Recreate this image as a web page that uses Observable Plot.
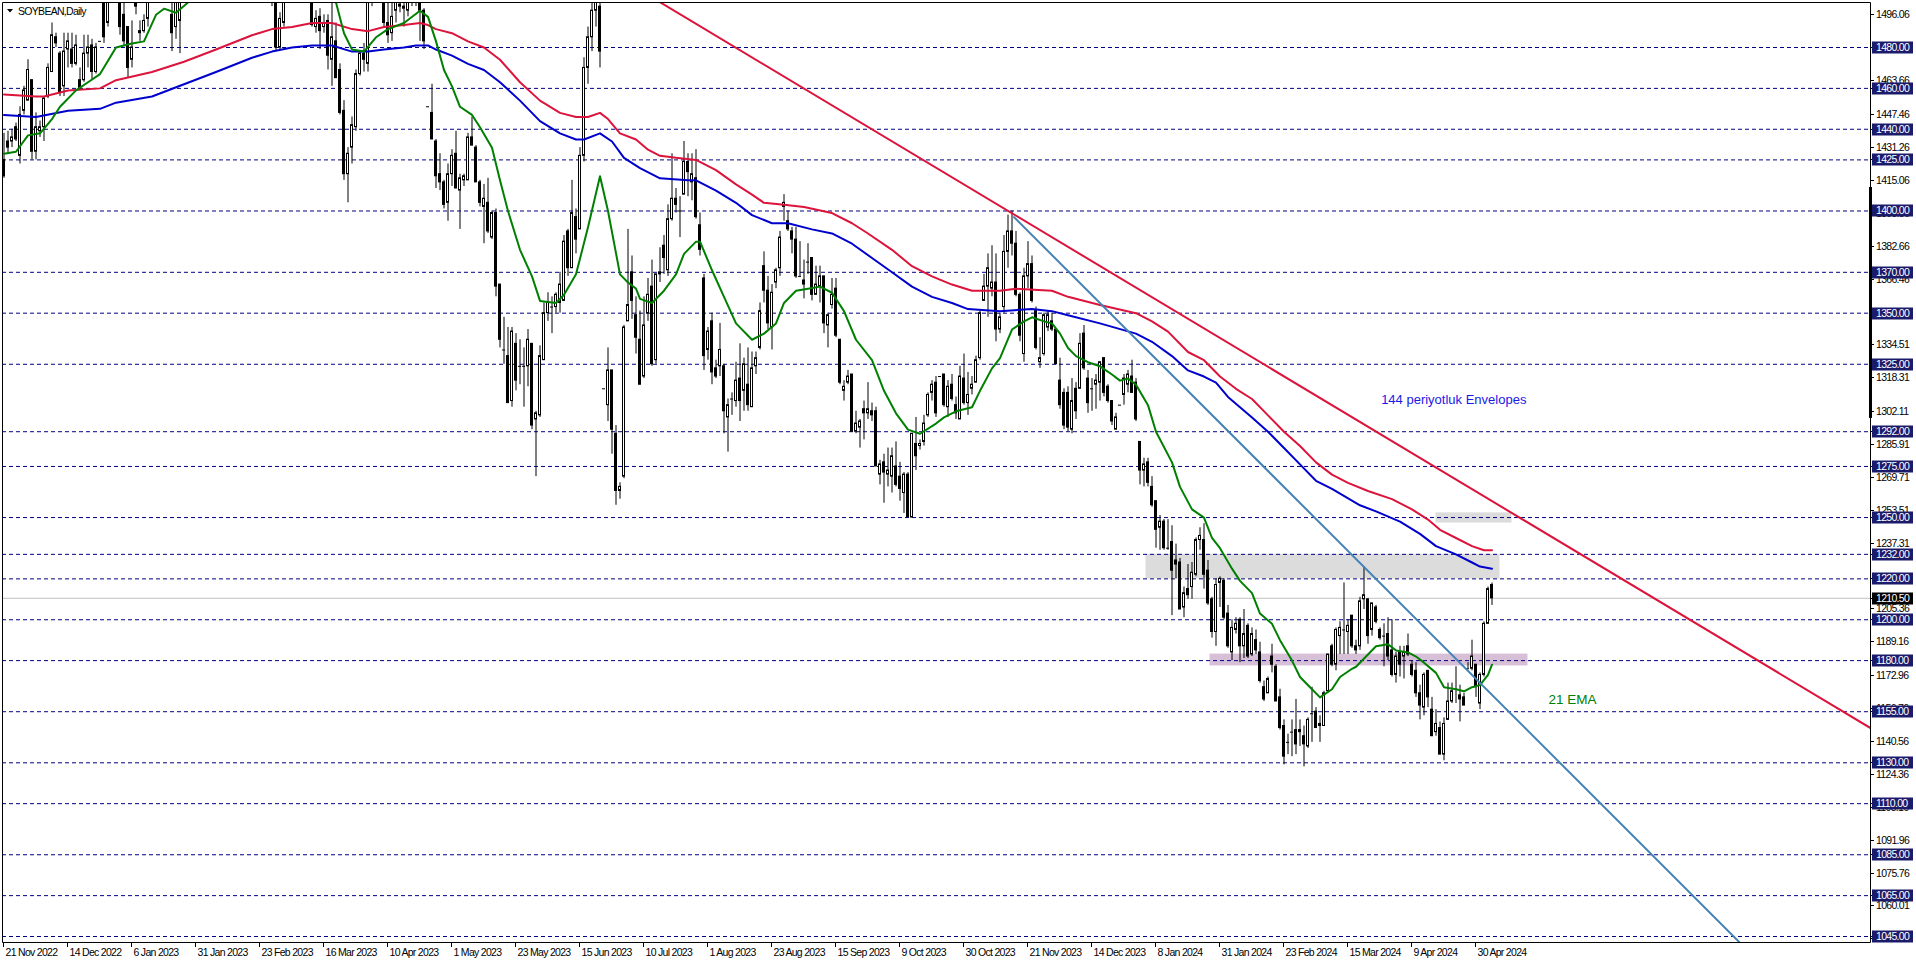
<!DOCTYPE html>
<html><head><meta charset="utf-8">
<script src="https://cdn.jsdelivr.net/npm/d3@7"></script>
<script src="https://cdn.jsdelivr.net/npm/@observablehq/plot@0.6"></script>
<style>
html,body{margin:0;padding:0;background:#fff;overflow:hidden}
#chart svg{display:block}
</style></head><body><div id="chart"></div>
<script>
const symbolLabel = "SOYBEAN,Daily";
const dateLabels = ["21 Nov 2022","14 Dec 2022","6 Jan 2023","31 Jan 2023","23 Feb 2023","16 Mar 2023","10 Apr 2023","1 May 2023","23 May 2023","15 Jun 2023","10 Jul 2023","1 Aug 2023","23 Aug 2023","15 Sep 2023","9 Oct 2023","30 Oct 2023","21 Nov 2023","14 Dec 2023","8 Jan 2024","31 Jan 2024","23 Feb 2024","15 Mar 2024","9 Apr 2024","30 Apr 2024"];
const dateLabelBars = [0,16,32,48,64,80,96,112,128,144,160,176,192,208,224,240,256,272,288,304,320,336,352,368];

// daily candles [open, high, low, close], one per bar
const candles = [
[1425,1438,1416,1417],[1434,1439,1428,1431],[1434,1440,1431,1436],[1441,1443,1434,1435],[1427,1451,1423,1447],
[1449,1461,1447,1459],[1454,1474,1454,1469],[1464,1464,1425,1429],[1429,1448,1425,1441],[1439,1444,1436,1441],
[1441,1456,1434,1455],[1456,1472,1455,1470],[1468,1492,1468,1486],[1485,1487,1480,1482],[1477,1478,1456,1458],
[1461,1487,1456,1478],[1479,1487,1470,1483],[1479,1487,1470,1472],[1472,1486,1471,1481],[1464,1470,1460,1460],
[1464,1486,1463,1477],[1477,1486,1470,1480],[1481,1484,1464,1468],[1468,1482,1467,1480],[1483,1483,1483,1483],
[1505,1510,1482,1485],[1492,1515,1490,1510],[1510,1525,1505,1520],[1520,1530,1508,1515],[1512,1518,1486,1490],
[1496,1508,1481,1483],[1490,1490,1465,1470],[1474,1493,1470,1480],[1505,1510,1496,1500],[1488,1493,1483,1487],
[1488,1496,1487,1493],[1494,1512,1490,1508],[1508,1520,1503,1515],[1515,1528,1510,1522],[1522,1530,1512,1518],
[1518,1525,1506,1510],[1510,1518,1502,1512],[1496,1505,1478,1487],[1490,1510,1484,1506],[1493,1512,1477,1508],
[1508,1525,1505,1522],[1522,1535,1515,1530],[1530,1538,1518,1520],[1520,1532,1512,1528],[1528,1540,1522,1535],
[1535,1542,1520,1524],[1524,1530,1510,1515],[1515,1528,1508,1525],[1525,1538,1520,1533],[1533,1545,1528,1540],
[1540,1548,1530,1535],[1535,1542,1522,1528],[1528,1536,1518,1532],[1532,1545,1528,1541],[1541,1550,1532,1538],
[1538,1546,1526,1530],[1530,1538,1515,1520],[1520,1530,1508,1526],[1526,1540,1520,1536],[1536,1544,1525,1530],
[1530,1536,1512,1518],[1518,1526,1505,1512],[1512,1520,1500,1515],[1515,1518,1478,1480],[1480,1497,1479,1494],
[1492,1512,1490,1506],[1506,1520,1503,1515],[1515,1525,1508,1520],[1520,1528,1510,1514],[1514,1522,1506,1518],
[1518,1526,1510,1512],[1512,1520,1504,1508],[1508,1512,1490,1491],[1490,1498,1487,1494],[1495,1499,1479,1488],
[1490,1496,1487,1492],[1493,1496,1469,1476],[1474,1503,1461,1485],[1483,1492,1465,1465],[1469,1472,1447,1448],
[1449,1454,1415,1418],[1418,1431,1404,1428],[1431,1446,1423,1442],[1441,1469,1439,1467],[1467,1478,1466,1477],
[1477,1482,1468,1474],[1472,1510,1468,1506],[1506,1518,1500,1512],[1512,1522,1505,1515],[1515,1520,1503,1508],
[1506,1510,1490,1492],[1492,1505,1482,1486],[1487,1505,1483,1495],[1498,1510,1492,1506],[1501,1506,1497,1500],
[1500,1505,1490,1499],[1498,1508,1495,1505],[1505,1515,1500,1510],[1510,1516,1500,1504],[1504,1508,1483,1498],
[1498,1499,1479,1483],[1451,1451,1451,1451],[1448,1462,1435,1435],[1434,1435,1411,1417],[1418,1428,1410,1414],
[1414,1415,1401,1403],[1404,1423,1395,1418],[1418,1430,1412,1427],[1428,1439,1411,1411],[1410,1418,1391,1416],
[1415,1418,1412,1417],[1415,1438,1415,1436],[1436,1446,1432,1432],[1431,1432,1414,1414],[1414,1415,1402,1404],
[1402,1413,1384,1406],[1404,1416,1389,1390],[1387,1400,1386,1399],[1399,1401,1358,1363],[1364,1364,1333,1337],
[1332,1348,1325,1332],[1329,1343,1306,1306],[1307,1343,1304,1341],[1335,1340,1312,1317],[1324,1337,1315,1324],
[1324,1333,1304,1324],[1324,1342,1314,1337],[1335,1335,1293,1295],[1298,1302,1270,1301],[1300,1334,1299,1329],
[1327,1355,1327,1350],[1350,1360,1346,1355],[1353,1358,1340,1353],[1353,1360,1350,1359],[1355,1370,1350,1364],
[1356,1388,1356,1385],[1390,1391,1368,1372],[1372,1415,1372,1399],[1397,1401,1379,1386],[1391,1431,1391,1427],
[1427,1475,1424,1470],[1470,1490,1462,1485],[1485,1505,1478,1498],[1498,1515,1490,1505],[1500,1508,1470,1478],
[1313,1313,1313,1313],[1305,1333,1297,1322],[1322,1322,1281,1293],[1291,1295,1256,1263],[1263,1267,1259,1265],
[1270,1344,1269,1343],[1346,1391,1346,1354],[1370,1378,1347,1356],[1349,1358,1330,1338],[1337,1351,1315,1315],
[1319,1358,1318,1344],[1350,1367,1346,1359],[1363,1376,1324,1325],[1327,1369,1325,1369],[1369,1382,1365,1370],
[1383,1388,1369,1377],[1371,1403,1368,1396],[1396,1428,1395,1406],[1406,1411,1399,1403],[1400,1407,1387,1400],
[1408,1434,1408,1424],[1424,1428,1407,1419],[1414,1428,1405,1418],[1416,1430,1396,1397],[1393,1399,1378,1381],
[1367,1369,1322,1329],[1332,1343,1327,1341],[1346,1350,1315,1321],[1323,1327,1318,1319],[1324,1345,1319,1332],
[1324,1325,1291,1302],[1299,1308,1282,1305],[1308,1311,1300,1308],[1307,1326,1304,1317],[1318,1335,1297,1307],
[1312,1328,1302,1325],[1315,1333,1302,1305],[1304,1331,1304,1323],[1324,1331,1320,1328],[1333,1355,1332,1351],
[1373,1380,1355,1361],[1361,1368,1342,1345],[1343,1364,1332,1360],[1365,1372,1362,1371],[1372,1390,1368,1387],
[1402,1408,1395,1404],[1395,1400,1390,1391],[1390,1392,1379,1386],[1386,1392,1367,1368],[1368,1385,1368,1368],
[1366,1376,1357,1364],[1375,1384,1369,1375],[1377,1377,1356,1359],[1359,1373,1359,1364],[1363,1373,1355,1368],
[1368,1368,1340,1345],[1344,1350,1333,1349],[1354,1367,1352,1359],[1362,1367,1338,1339],[1337,1337,1315,1316],
[1312,1317,1307,1314],[1316,1322,1315,1319],[1320,1320,1292,1292],[1292,1302,1291,1296],[1294,1298,1284,1297],
[1303,1307,1288,1301],[1301,1316,1298,1303],[1302,1306,1297,1300],[1302,1304,1275,1275],[1271,1278,1266,1276],
[1277,1281,1257,1272],[1271,1284,1265,1273],[1270,1284,1262,1280],[1275,1287,1265,1266],[1270,1277,1258,1264],
[1262,1272,1252,1271],[1271,1272,1250,1250],[1250,1291,1250,1291],[1286,1299,1273,1280],[1285,1288,1283,1286],
[1287,1300,1285,1296],[1300,1311,1299,1310],[1311,1317,1307,1315],[1316,1319,1299,1301],[1319,1319,1319,1319],
[1320,1320,1304,1305],[1304,1317,1299,1314],[1315,1320,1307,1308],[1305,1309,1298,1301],[1298,1324,1298,1319],
[1318,1330,1305,1306],[1306,1321,1300,1310],[1313,1319,1310,1315],[1316,1329,1316,1327],[1328,1351,1327,1350],
[1356,1369,1356,1363],[1363,1379,1348,1372],[1362,1383,1358,1365],[1365,1379,1336,1342],[1342,1350,1340,1348],
[1353,1388,1350,1380],[1380,1398,1372,1390],[1390,1400,1378,1384],[1384,1390,1358,1359],[1359,1360,1336,1339],
[1330,1372,1326,1368],[1368,1385,1362,1374],[1374,1378,1355,1356],[1351,1353,1332,1333],[1326,1338,1323,1328],
[1330,1350,1329,1349],[1343,1351,1341,1349],[1346,1350,1341,1342],[1342,1342,1325,1325],[1317,1328,1303,1305],
[1311,1313,1293,1295],[1311,1314,1292,1294],[1293,1318,1291,1307],[1313,1316,1298,1302],[1313,1340,1313,1335],
[1340,1344,1322,1323],[1318,1322,1301,1306],[1313,1318,1302,1313],[1315,1320,1303,1317],[1316,1326,1307,1326],
[1328,1328,1309,1311],[1314,1315,1306,1307],[1307,1307,1295,1297],[1293,1301,1293,1299],[1305,1305,1305,1305],
[1310,1320,1305,1318],[1315,1322,1311,1320],[1319,1327,1311,1311],[1316,1318,1297,1298],[1287,1287,1266,1273],
[1273,1279,1265,1276],[1277,1279,1265,1267],[1265,1270,1255,1256],[1258,1258,1235,1244],[1245,1251,1234,1248],
[1248,1249,1234,1235],[1235,1249,1234,1235],[1238,1246,1202,1224],[1229,1237,1220,1227],[1228,1230,1205,1205],
[1206,1216,1201,1213],[1215,1227,1210,1212],[1216,1228,1210,1223],[1222,1240,1221,1239],[1239,1245,1234,1241],
[1239,1247,1215,1222],[1224,1229,1207,1208],[1210,1211,1191,1194],[1194,1220,1187,1217],[1218,1221,1206,1220],
[1219,1220,1200,1201],[1203,1207,1186,1187],[1184,1200,1180,1196],[1195,1201,1193,1198],[1200,1201,1179,1187],
[1187,1205,1181,1193],[1197,1198,1181,1182],[1183,1196,1182,1193],[1190,1195,1183,1185],[1184,1189,1169,1170],
[1167,1170,1160,1161],[1164,1172,1164,1171],[1182,1188,1174,1178],[1177,1178,1160,1160],[1162,1166,1146,1147],
[1148,1151,1129,1133],[1140,1144,1134,1140],[1145,1151,1133,1145],[1146,1161,1134,1139],[1146,1151,1138,1145],
[1143,1148,1128,1139],[1138,1152,1137,1151],[1154,1167,1140,1154],[1155,1157,1147,1147],[1149,1153,1140,1148],
[1148,1165,1148,1164],[1165,1183,1164,1183],[1187,1188,1177,1178],[1178,1196,1175,1195],[1192,1199,1183,1196],
[1195,1218,1183,1195],[1194,1200,1183,1197],[1202,1202,1186,1187],[1187,1190,1183,1185],[1187,1211,1185,1209],
[1210,1226,1205,1212],[1210,1210,1188,1192],[1195,1208,1192,1208],[1206,1207,1198,1199],[1195,1196,1190,1191],
[1192,1198,1177,1192],[1193,1201,1180,1182],[1185,1200,1172,1173],[1173,1184,1169,1182],[1184,1187,1172,1178],
[1182,1187,1171,1184],[1187,1193,1182,1183],[1178,1180,1172,1173],[1175,1179,1162,1164],[1164,1168,1151,1158],
[1157,1174,1153,1173],[1175,1175,1157,1162],[1156,1162,1143,1143],[1145,1156,1143,1149],[1147,1150,1134,1134],
[1134,1152,1131,1149],[1151,1169,1151,1160],[1160,1169,1159,1165],[1166,1177,1159,1166],[1163,1168,1150,1161],
[1162,1164,1158,1158],[1176,1179,1176,1176],[1176,1190,1175,1182],[1178,1178,1162,1167],[1159,1174,1156,1173],
[1173,1199,1172,1198],[1198,1216,1198,1215],[1217,1218,1207,1210.5]
];

// 21 EMA [bar, value]
const ema21 = [[0,1428],[3,1429],[6,1437],[9,1438],[12,1445],[14,1451],[18,1459],[21,1463],[24,1467],[28,1480],[32,1482],[35,1483],[38,1496],[40,1499],[43,1497],[46,1502],[50,1508],[56,1515],[62,1518],[68,1513],[74,1508],[80,1505],[83,1502],[85,1487],[87,1479],[90,1478],[93,1485],[96,1489],[100,1492],[104,1498],[106,1495],[108,1483],[110,1469],[112,1461],[114,1451],[117,1447],[119,1441],[122,1431],[124,1415],[126,1400],[129,1381],[132,1368],[134,1356],[138,1355],[140,1359],[143,1369],[146,1392],[149,1417],[151,1400],[154,1369],[156,1365],[158,1362],[159,1357],[162,1355],[165,1361],[168,1369],[170,1379],[173,1385],[174,1385],[177,1371],[180,1358],[183,1345],[187,1337],[190,1340],[193,1345],[195,1355],[198,1361],[201,1362],[204,1363],[207,1360],[210,1351],[213,1337],[217,1327],[220,1312],[223,1301],[226,1293],[229,1291],[233,1296],[235,1299],[238,1302],[242,1304],[244,1312],[247,1323],[249,1328],[252,1342],[255,1346],[257,1348],[260,1346],[262,1345],[264,1340],[266,1333],[268,1329],[271,1326],[274,1324],[277,1320],[279,1317],[281,1318],[283,1315],[286,1305],[288,1292],[292,1277],[294,1265],[297,1254],[300,1250],[302,1240],[304,1235],[307,1225],[309,1219],[312,1213],[314,1203],[317,1198],[319,1190],[322,1180],[324,1172],[327,1166],[329,1162],[332,1166],[334,1172],[337,1176],[338,1177],[341,1183],[343,1187],[346,1188],[348,1185],[351,1184],[353,1182],[355,1179],[358,1174],[360,1167],[363,1166],[365,1165],[367,1167],[369,1168],[371,1173],[372,1178]];

// 144-period envelopes [bar, value]
const envUpper = [[0,1457],[8,1456],[10,1456],[16,1459],[24,1460],[28,1464],[37,1468],[45,1473],[53,1479],[62,1486],[67,1489],[72,1490],[77,1492],[82,1492],[87,1489],[91,1488],[95,1490],[100,1491],[104,1492],[106,1491],[108,1489],[112,1487],[116,1483],[120,1480],[124,1474],[129,1463],[134,1454],[139,1448],[143,1446],[146,1446],[149,1448],[151,1445],[154,1438],[158,1435],[161,1430],[164,1427],[168,1426],[173,1425],[178,1420],[183,1413],[187,1408],[190,1404],[195,1403],[200,1402],[207,1399],[212,1394],[216,1389],[222,1381],[227,1373],[232,1368],[237,1364],[242,1361],[245,1361],[249,1361],[253,1362],[262,1361],[266,1358],[274,1354],[283,1350],[287,1346],[291,1341],[296,1331],[300,1327],[304,1319],[308,1313],[312,1308],[316,1300],[320,1292],[324,1285],[328,1277],[332,1271],[336,1267],[341,1263],[347,1259],[352,1254],[356,1249],[359,1244],[363,1240],[367,1236],[370,1234],[372,1234]];
const envLower = [[0,1447],[8,1446],[16,1449],[24,1450],[28,1453],[37,1456],[45,1462],[53,1468],[62,1475],[67,1478],[72,1480],[77,1481],[82,1481],[87,1478],[91,1478],[95,1479],[100,1480],[103,1481],[106,1481],[108,1479],[112,1476],[116,1472],[120,1469],[124,1463],[129,1454],[134,1444],[139,1438],[143,1435],[145,1435],[149,1438],[152,1434],[155,1426],[159,1421],[164,1416],[171,1415],[173,1415],[178,1410],[183,1404],[187,1398],[192,1394],[196,1394],[202,1391],[207,1389],[212,1384],[217,1377],[222,1370],[227,1363],[232,1358],[237,1355],[241,1352],[249,1351],[257,1352],[262,1351],[266,1349],[274,1345],[283,1340],[287,1336],[292,1329],[296,1322],[300,1319],[303,1316],[306,1309],[312,1299],[316,1292],[320,1284],[324,1276],[328,1268],[332,1264],[339,1256],[343,1253],[349,1248],[354,1242],[358,1236],[363,1232],[367,1228],[369,1226],[372,1225]];

const levels = [1480,1460,1440,1425,1400,1370,1350,1325,1292,1275,1250,1232,1220,1200,1180,1155,1130,1110,1085,1065,1045];
const lastPrice = 1210.5;
const priceTicks = [1496.06,1463.66,1447.46,1431.26,1415.06,1398.86,1382.66,1366.46,1334.51,1318.31,1302.11,1285.91,1269.71,1253.51,1237.31,1205.36,1189.16,1172.96,1156.76,1140.56,1124.36,1108.16,1091.96,1075.76,1060.01,1043.81];

// trendlines [bar, price]
const redTrend = [[150,1518.6],[466.625,1147]];
const blueTrend = [[252.5,1397],[436,1038]];
// zones [barStart, barEnd, priceLow, priceHigh]
const grayZones = [[285.5,374,1220,1232],[358,377,1247.3,1252.3]];
const purpleZones = [[301.5,381,1177.4,1183.2]];
const scrollMark = [1411.5,1298.5];

const FONT = "'Liberation Sans', Arial, sans-serif";
const rows = candles.map((d, i) => ({i, o: d[0], h: d[1], l: d[2], c: d[3]}));
const up = rows.filter(d => d.c > d.o);
const down = rows.filter(d => d.c < d.o);
const flat = rows.filter(d => d.c === d.o);

function axesMark(index, scales, values, dims) {
  const {width, height, marginTop, marginRight, marginBottom, marginLeft} = dims;
  const xr = width - marginRight, yb = height - marginBottom;
  const g = d3.create("svg:g").attr("font-family", FONT).attr("font-size", 10.5)
    .attr("letter-spacing", -0.7).attr("text-anchor", "start");
  g.append("path").attr("d", `M${marginLeft+0.5},${marginTop+0.5}H${xr+0.5}V${yb+0.5}H${marginLeft+0.5}Z`)
    .attr("fill", "none").attr("stroke", "#000");
  const s0 = scales.y(scrollMark[0]), s1 = scales.y(scrollMark[1]);
  g.append("rect").attr("x", xr - 1).attr("y", s0).attr("width", 3).attr("height", s1 - s0).attr("fill", "#000");
  for (const t of priceTicks) {
    const y = Math.round(scales.y(t)) + 0.5;
    g.append("line").attr("x1", xr).attr("x2", xr + 4).attr("y1", y).attr("y2", y).attr("stroke", "#000");
    g.append("text").attr("x", xr + 6).attr("y", y).attr("dy", "0.35em").attr("fill", "#000").text(t.toFixed(2));
  }
  const box = (v, bg) => {
    const y = Math.round(scales.y(v)) + 0.5;
    g.append("line").attr("x1", xr).attr("x2", xr + 4).attr("y1", y).attr("y2", y).attr("stroke", "#000");
    g.append("rect").attr("x", xr + 2).attr("y", y - 6).attr("width", 41).attr("height", 12).attr("fill", bg);
    g.append("text").attr("x", xr + 6).attr("y", y).attr("dy", "0.35em").attr("fill", "#fff").text(v.toFixed(2));
  };
  for (const v of levels) box(v, "#1b1b6b");
  box(lastPrice, "#000");
  dateLabelBars.forEach((b, k) => {
    const x = Math.floor(scales.x(b)) + 0.5;
    g.append("line").attr("x1", x).attr("x2", x).attr("y1", yb).attr("y2", yb + 5).attr("stroke", "#000");
    g.append("text").attr("x", x + 2).attr("y", yb + 10).attr("dy", "0.35em").attr("fill", "#000").text(dateLabels[k]);
  });
  g.append("path").attr("d", `M${marginLeft+5},${marginTop+7}h6l-3,3.5z`).attr("fill", "#000");
  g.append("text").attr("x", marginLeft + 16).attr("y", marginTop + 9).attr("dy", "0.35em").attr("fill", "#000").text(symbolLabel);
  return g.node();
}

const xy = {x: d => d[0], y: d => d[1]};
const chart = Plot.plot({
  width: 1916, height: 963,
  marginLeft: 2, marginTop: 2, marginRight: 46, marginBottom: 21,
  x: {type: "linear", domain: [-0.375, 466.625], axis: null},
  y: {type: "linear", domain: [1042.07, 1502.02], axis: null},
  style: {background: "#fff", overflow: "visible"},
  marks: [
    Plot.rect(grayZones, {x1: d => d[0], x2: d => d[1], y1: d => d[2], y2: d => d[3], fill: "#dcdcdc", clip: true}),
    Plot.rect(purpleZones, {x1: d => d[0], x2: d => d[1], y1: d => d[2], y2: d => d[3], fill: "#d8bfd8", clip: true}),
    Plot.ruleY(levels, {y: d => d, stroke: "#000080", strokeDasharray: "4,3", strokeWidth: 1}),
    Plot.ruleY([lastPrice], {y: d => d, stroke: "#c0c0c0", strokeWidth: 1}),
    Plot.ruleX(rows, {x: "i", y1: "l", y2: "h", stroke: "#000", strokeWidth: 1, clip: true}),
    Plot.rect(up, {x1: d => d.i - 0.25, x2: d => d.i + 0.25, y1: "o", y2: "c", fill: "#fff", stroke: "#000", strokeWidth: 1, clip: true}),
    Plot.rect(down, {x1: d => d.i - 0.25, x2: d => d.i + 0.25, y1: "o", y2: "c", fill: "#000", stroke: "#000", strokeWidth: 1, clip: true}),
    Plot.ruleY(flat, {y: "c", x1: d => d.i - 0.375, x2: d => d.i + 0.375, stroke: "#000", strokeWidth: 1, clip: true}),
    Plot.line(envUpper, {...xy, stroke: "#dc143c", strokeWidth: 2, clip: true}),
    Plot.line(envLower, {...xy, stroke: "#0000cd", strokeWidth: 2, clip: true}),
    Plot.line(ema21, {...xy, stroke: "#008000", strokeWidth: 2, clip: true}),
    Plot.line(redTrend, {...xy, stroke: "#dc143c", strokeWidth: 2, clip: true}),
    Plot.line(blueTrend, {...xy, stroke: "#4682b4", strokeWidth: 2, clip: true}),
    Plot.text(["144 periyotluk Envelopes"], {x: 380.6, y: 1307.8, text: d => d, textAnchor: "end", fill: "#1a1ae6", fontSize: 13, fontFamily: FONT}),
    Plot.text(["21 EMA"], {x: 386.1, y: 1160.9, text: d => d, textAnchor: "start", fill: "#008000", fontSize: 13.5, fontFamily: FONT}),
    axesMark
  ]
});
document.getElementById("chart").appendChild(chart);
</script>
</body></html>
